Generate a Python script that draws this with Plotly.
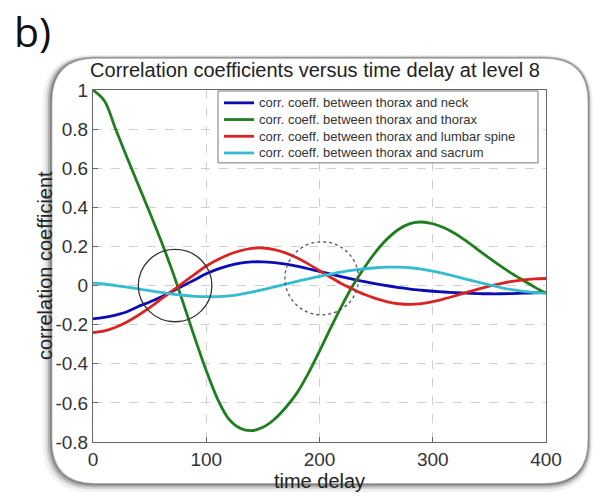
import plotly.graph_objects as go

# ---------------- data ----------------
time_delay = [0, 10, 20, 30, 40, 50, 60, 70, 80, 90, 100, 110, 120, 130, 140, 150, 160, 170, 180, 190,
              200, 210, 220, 230, 240, 250, 260, 270, 280, 290, 300, 310, 320, 330, 340, 350, 360, 370,
              380, 390, 400]

neck = [-0.17, -0.163, -0.151, -0.134, -0.107, -0.084, -0.058, -0.03, 0.0, 0.03, 0.06, 0.084, 0.102,
        0.115, 0.121, 0.121, 0.117, 0.11, 0.099, 0.086, 0.072, 0.058, 0.045, 0.032, 0.02, 0.009, -0.001,
        -0.01, -0.018, -0.024, -0.029, -0.033, -0.036, -0.039, -0.041, -0.042, -0.042, -0.041, -0.039,
        -0.037, -0.035]

thorax = [1.0, 0.945, 0.80, 0.655, 0.515, 0.375, 0.23, 0.075, -0.095, -0.27, -0.435, -0.58, -0.683,
          -0.73, -0.742, -0.725, -0.685, -0.625, -0.55, -0.45, -0.335, -0.215, -0.10, 0.005, 0.095, 0.175,
          0.24, 0.288, 0.317, 0.325, 0.316, 0.296, 0.265, 0.226, 0.183, 0.14, 0.099, 0.061, 0.026, -0.008,
          -0.04]

lumbar = [-0.24, -0.232, -0.213, -0.186, -0.152, -0.113, -0.07, -0.027, 0.016, 0.058, 0.1, 0.132, 0.159,
          0.178, 0.19, 0.192, 0.184, 0.167, 0.142, 0.111, 0.076, 0.041, 0.008, -0.02, -0.046, -0.067,
          -0.083, -0.093, -0.096, -0.092, -0.082, -0.068, -0.052, -0.035, -0.018, -0.003, 0.01, 0.021,
          0.029, 0.034, 0.036]

sacrum = [0.012, 0.008, 0.0, -0.008, -0.017, -0.026, -0.035, -0.044, -0.05, -0.055, -0.057, -0.057,
          -0.053, -0.045, -0.034, -0.021, -0.007, 0.007, 0.021, 0.034, 0.047, 0.059, 0.07, 0.079, 0.086,
          0.091, 0.094, 0.094, 0.091, 0.084, 0.074, 0.061, 0.047, 0.032, 0.017, 0.003, -0.01, -0.021,
          -0.03, -0.036, -0.04]

series_names = ["corr. coeff. between thorax and neck",
                "corr. coeff. between thorax and thorax",
                "corr. coeff. between thorax and lumbar spine",
                "corr. coeff. between thorax and sacrum"]

x_tick_vals = [0, 100, 200, 300, 400]
x_tick_text = ["0", "100", "200", "300", "400"]
y_tick_vals = [1, 0.8, 0.6, 0.4, 0.2, 0, -0.2, -0.4, -0.6, -0.8]
y_tick_text = ["1", "0.8", "0.6", "0.4", "0.2", "0", "-0.2", "-0.4", "-0.6", "-0.8"]

# highlighted regions (circle centres and radii in data units)
solid_circle = dict(cx=72.5, cy=0.0, rx=32.5, ry=0.185)
dotted_circle = dict(cx=202, cy=0.037, rx=32.5, ry=0.187)

# ---------------- styling ----------------
W, H = 593, 496
ML, MR, MT, MB = 93, 47, 90, 50
colors = ["#0c0cb4", "#1d7f1d", "#da2424", "#35bccf"]
FONT = "Liberation Sans, Arial, sans-serif"
LEG_FONT = 13
LEG_ROW = 16.9

fig = go.Figure()
for name, ys, c in zip(series_names, [neck, thorax, lumbar, sacrum], colors):
    fig.add_trace(go.Scatter(x=time_delay, y=ys, mode="lines", name=name, showlegend=False,
                             line=dict(color=c, width=2.8, shape="spline", smoothing=1.0)))


def px2paper(px, py):
    return (px - ML) / (W - ML - MR), (H - MB - py) / (H - MT - MB)


def rounded_path(x0, y0, x1, y1, r):
    def P(px, py):
        a, b = px2paper(px, py)
        return f"{a:.5f},{b:.5f}"
    return (f"M {P(x0 + r, y0)} L {P(x1 - r, y0)} Q {P(x1, y0)} {P(x1, y0 + r)} "
            f"L {P(x1, y1 - r)} Q {P(x1, y1)} {P(x1 - r, y1)} L {P(x0 + r, y1)} "
            f"Q {P(x0, y1)} {P(x0, y1 - r)} L {P(x0, y0 + r)} Q {P(x0, y0)} {P(x0 + r, y0)} Z")


# rounded frame with a soft shadow (decoration)
for off, op, wdt in [(6, 0.07, 9), (4, 0.14, 6), (2.5, 0.25, 4), (1.2, 0.4, 2)]:
    fig.add_shape(type="path", xref="paper", yref="paper",
                  path=rounded_path(52 - off * 0.8, 58 + off * 0.2, 588, 488 + off * 0.7, 44),
                  line=dict(color=f"rgba(60,60,60,{op})", width=wdt), layer="below")
fig.add_shape(type="path", xref="paper", yref="paper",
              path=rounded_path(52, 58, 588, 488, 44),
              line=dict(color="rgba(160,160,160,0.6)", width=1.0), fillcolor="white", layer="below")

# circles
for circ, dash, lc in [(solid_circle, "solid", "#333333"), (dotted_circle, "dot", "#555555")]:
    fig.add_shape(type="circle", xref="x", yref="y",
                  x0=circ["cx"] - circ["rx"], x1=circ["cx"] + circ["rx"],
                  y0=circ["cy"] - circ["ry"], y1=circ["cy"] + circ["ry"],
                  line=dict(color=lc, width=1.3, dash=dash))

# MATLAB-style legend box
row0 = 103
lx0, ly0 = px2paper(218, 91)
lx1, ly1 = px2paper(538, row0 + 3 * LEG_ROW + 10)
fig.add_shape(type="rect", xref="paper", yref="paper", x0=lx0, x1=lx1, y0=ly1, y1=ly0,
              line=dict(color="#777", width=1), fillcolor="white", layer="above")
for i, (name, c) in enumerate(zip(series_names, colors)):
    cy = row0 + i * LEG_ROW
    sx0, sy = px2paper(224, cy)
    sx1, _ = px2paper(254, cy)
    fig.add_shape(type="line", xref="paper", yref="paper", x0=sx0, x1=sx1, y0=sy, y1=sy,
                  line=dict(color=c, width=2.8), layer="above")
    tx, ty = px2paper(258, cy)
    fig.add_annotation(text=name, xref="paper", yref="paper", x=tx, y=ty, xanchor="left",
                       yanchor="middle", showarrow=False, borderpad=0,
                       font=dict(family=FONT, size=LEG_FONT, color="#333"))

fig.add_annotation(text="b)", xref="paper", yref="paper", x=px2paper(12, 0)[0], y=px2paper(0, 30)[1],
                   xanchor="left", yanchor="middle", showarrow=False,
                   font=dict(family="Open Sans, DejaVu Sans, sans-serif", size=41, color="#111"))

# y-axis title placed like MATLAB's (close to the tick labels)
fig.add_annotation(text="correlation coefficient", xref="paper", yref="paper",
                   x=px2paper(45, 0)[0], y=px2paper(0, 268)[1], textangle=-90,
                   xanchor="center", yanchor="middle", showarrow=False,
                   font=dict(family=FONT, size=20, color="#222"))

axis_common = dict(showline=True, linecolor="#666", linewidth=1, mirror=True,
                   ticks="inside", ticklen=5, tickcolor="#666",
                   showgrid=True, gridcolor="#cfcfcf", griddash="dash", gridwidth=1,
                   zeroline=False, tickfont=dict(family=FONT, size=19, color="#333"))

fig.update_layout(
    width=W, height=H,
    margin=dict(l=ML, r=MR, t=MT, b=MB),
    paper_bgcolor="white", plot_bgcolor="white",
    font=dict(family=FONT, color="#333"),
    title=dict(text="Correlation coefficients versus time delay at level 8",
               x=315 / W, xanchor="center", y=1 - 70 / H, yanchor="middle",
               font=dict(family=FONT, size=20, color="#222")),
    xaxis=dict(range=[0, 400], tickvals=x_tick_vals, ticktext=x_tick_text,
               title=dict(text="time delay", standoff=0, font=dict(family=FONT, size=20, color="#222")),
               **axis_common),
    yaxis=dict(range=[-0.8, 1], tickvals=y_tick_vals, ticktext=y_tick_text, **axis_common),
    showlegend=False,
)

fig.write_html("out.html", config={"displayModeBar": False},
               post_script="document.body.style.margin='0';")
